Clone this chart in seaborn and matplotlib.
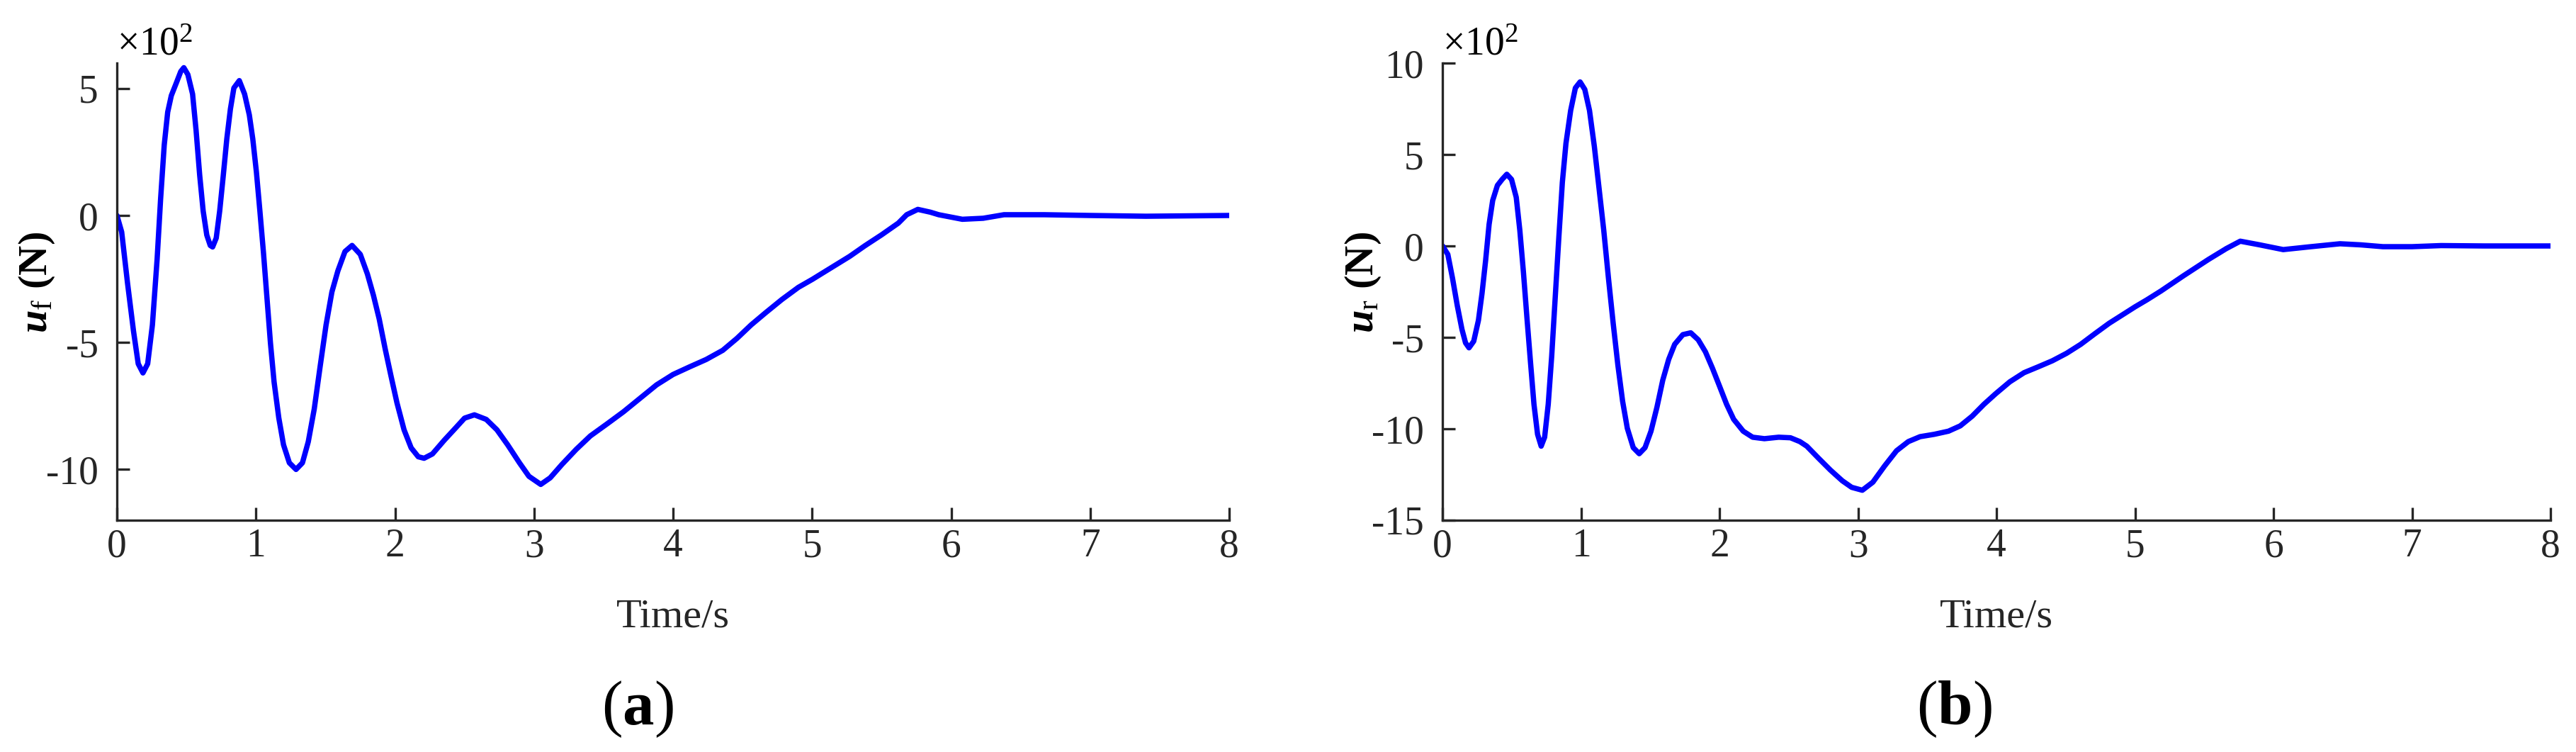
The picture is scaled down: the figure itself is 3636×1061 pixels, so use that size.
import matplotlib
matplotlib.use("Agg")
import matplotlib.pyplot as plt
import seaborn as sns

# front wheel force u_f, values read in units of 1e2 N
t_f = [0.0, 0.034, 0.076, 0.119, 0.153, 0.187, 0.221, 0.255, 0.289, 0.314,
       0.340, 0.365, 0.391, 0.425, 0.459, 0.481, 0.510, 0.544, 0.569, 0.595,
       0.620, 0.646, 0.671, 0.688, 0.714, 0.739, 0.765, 0.790, 0.816, 0.841,
       0.880, 0.918, 0.952, 0.977, 1.003, 1.028, 1.054, 1.079, 1.104, 1.130,
       1.164, 1.198, 1.240, 1.288, 1.334, 1.376, 1.419, 1.461, 1.504, 1.546,
       1.589, 1.640, 1.691, 1.750, 1.801, 1.844, 1.886, 1.929, 1.971, 2.014,
       2.065, 2.116, 2.167, 2.209, 2.269, 2.354, 2.430, 2.500, 2.571, 2.656,
       2.733, 2.810, 2.895, 2.963, 3.048, 3.116, 3.201, 3.303, 3.405, 3.524,
       3.643, 3.762, 3.881, 4.000, 4.119, 4.238, 4.357, 4.459, 4.561, 4.663,
       4.782, 4.901, 5.003, 5.071, 5.270, 5.380, 5.500, 5.620, 5.680, 5.760,
       5.850, 5.910, 6.080, 6.230, 6.380, 6.670, 7.000, 7.400, 8.000]
u_f = [0.0, -0.65, -2.66, -4.55, -5.84, -6.20, -5.84, -4.31, -1.71, 0.65,
       2.77, 4.07, 4.72, 5.19, 5.67, 5.82, 5.55, 4.78, 3.36, 1.59,
       0.18, -0.77, -1.18, -1.24, -0.89, 0.18, 1.59, 3.01, 4.19, 5.02,
       5.31, 4.78, 3.96, 3.01, 1.71, 0.18, -1.48, -3.25, -5.02, -6.55,
       -7.97, -9.03, -9.74, -10.00, -9.74, -8.91, -7.62, -5.96, -4.31, -3.01,
       -2.18, -1.42, -1.18, -1.53, -2.30, -3.13, -4.07, -5.25, -6.32, -7.38,
       -8.44, -9.15, -9.50, -9.56, -9.39, -8.85, -8.40, -7.98, -7.85, -8.03,
       -8.44, -9.03, -9.74, -10.27, -10.59, -10.33, -9.80, -9.21, -8.68, -8.21,
       -7.73, -7.20, -6.67, -6.26, -5.96, -5.67, -5.31, -4.84, -4.31, -3.84,
       -3.31, -2.83, -2.51, -2.28, -1.61, -1.19, -0.76, -0.30, 0.03, 0.24,
       0.13, 0.03, -0.15, -0.11, 0.03, 0.03, 0.00, -0.03, 0.00]

# rear wheel force u_r, values read in units of 1e2 N
t_r = [0.0, 0.038, 0.072, 0.106, 0.140, 0.166, 0.191, 0.225, 0.259, 0.285,
       0.311, 0.336, 0.362, 0.396, 0.430, 0.464, 0.498, 0.532, 0.558, 0.584,
       0.609, 0.635, 0.660, 0.686, 0.712, 0.737, 0.763, 0.788, 0.814, 0.840,
       0.865, 0.891, 0.925, 0.959, 0.993, 1.027, 1.061, 1.096, 1.130, 1.164,
       1.198, 1.232, 1.266, 1.300, 1.334, 1.377, 1.420, 1.462, 1.505, 1.548,
       1.590, 1.633, 1.676, 1.735, 1.792, 1.846, 1.898, 1.949, 2.000, 2.051,
       2.102, 2.171, 2.239, 2.324, 2.427, 2.512, 2.580, 2.630, 2.715, 2.801,
       2.886, 2.954, 3.031, 3.107, 3.193, 3.278, 3.363, 3.448, 3.551, 3.653,
       3.738, 3.824, 3.909, 3.994, 4.096, 4.199, 4.301, 4.403, 4.506, 4.608,
       4.710, 4.813, 4.915, 5.000, 5.085, 5.188, 5.350, 5.530, 5.660, 5.760,
       5.900, 6.070, 6.270, 6.480, 6.630, 6.790, 7.000, 7.210, 7.520, 8.000]
u_r = [0.0, -0.46, -1.77, -3.25, -4.56, -5.30, -5.57, -5.21, -4.07, -2.59,
       -0.79, 1.18, 2.49, 3.31, 3.64, 3.92, 3.64, 2.66, 0.85, -1.44,
       -3.90, -6.36, -8.66, -10.30, -10.95, -10.46, -8.66, -6.03, -2.75, 0.52,
       3.48, 5.61, 7.41, 8.64, 8.97, 8.56, 7.41, 5.44, 3.15, 0.85,
       -1.77, -4.23, -6.52, -8.49, -9.97, -11.03, -11.36, -11.03, -10.13, -8.82,
       -7.34, -6.20, -5.38, -4.85, -4.75, -5.13, -5.79, -6.69, -7.67, -8.66,
       -9.48, -10.13, -10.46, -10.54, -10.46, -10.49, -10.70, -10.95, -11.61, -12.26,
       -12.84, -13.20, -13.36, -12.92, -12.02, -11.20, -10.70, -10.43, -10.30, -10.13,
       -9.84, -9.31, -8.66, -8.08, -7.43, -6.93, -6.61, -6.28, -5.87, -5.38,
       -4.80, -4.23, -3.74, -3.33, -2.95, -2.46, -1.63, -0.74, -0.14, 0.26,
       0.06, -0.20, -0.04, 0.12, 0.06, -0.04, -0.04, 0.02, 0.00, 0.00]

x_ticks = [0, 1, 2, 3, 4, 5, 6, 7, 8]
yticks_f = [-10, -5, 0, 5]
yticks_r = [-15, -10, -5, 0, 5, 10]

sns.set_style("ticks")
plt.rcParams['font.family'] = ['Liberation Serif', 'DejaVu Serif']
plt.rcParams['mathtext.fontset'] = 'custom'
plt.rcParams['mathtext.rm'] = 'Liberation Serif'
plt.rcParams['mathtext.it'] = 'Liberation Serif:italic'
plt.rcParams['mathtext.bf'] = 'Liberation Serif:bold'
plt.rcParams['mathtext.bfit'] = 'Liberation Serif:italic:bold'
plt.rcParams['axes.unicode_minus'] = False

dark = '#262626'
fig = plt.figure(figsize=(36.36, 10.61), dpi=100)
ax1 = fig.add_axes([0.0454, 0.3082, 0.4318, 0.6079])
ax2 = fig.add_axes([0.5600, 0.3082, 0.4301, 0.6079])

panels = [
    (ax1, t_f, u_f, yticks_f, (-12, 6), r'$\mathbfit{u}_{\mathrm{f}}$ (N)', 'a', 0.2475),
    (ax2, t_r, u_r, yticks_r, (-15, 10), r'$\mathbfit{u}_{\mathrm{r}}$ (N)', 'b', 0.7585),
]

for ax, t, u, yt, ylim, ylab, tag, tag_x in panels:
    sns.lineplot(x=t, y=u, ax=ax, color=(0, 0, 1), linewidth=5.4,
                 sort=False, estimator=None)
    ax.set_xlim(0, 8)
    ax.set_ylim(*ylim)
    ax.set_xticks(x_ticks)
    ax.set_yticks(yt)
    for side in ['top', 'right']:
        ax.spines[side].set_visible(False)
    for side in ['left', 'bottom']:
        ax.spines[side].set_linewidth(2.4)
        ax.spines[side].set_color(dark)
    ax.tick_params(axis='both', direction='in', length=12.7, width=2.4,
                   colors=dark, labelsize=40)
    ax.tick_params(axis='x', pad=8)
    ax.tick_params(axis='y', pad=19)
    ax.set_xlabel('Time/s', fontsize=42, color=dark, labelpad=34)
    ax.set_ylabel(ylab, fontsize=42, fontweight='bold', color='black')
    ax.yaxis.set_label_coords(-0.054, 0.52)
    ax.text(0.0, 1.0, '×10$^{2}$', transform=ax.transAxes, ha='left',
            va='bottom', fontsize=40, color='black')
    fig.text(tag_x, 0.057, '($\\mathbf{' + tag + '}$)',
             ha='center', va='center', fontsize=64, color='black')

fig.savefig('out.png', dpi=100)
